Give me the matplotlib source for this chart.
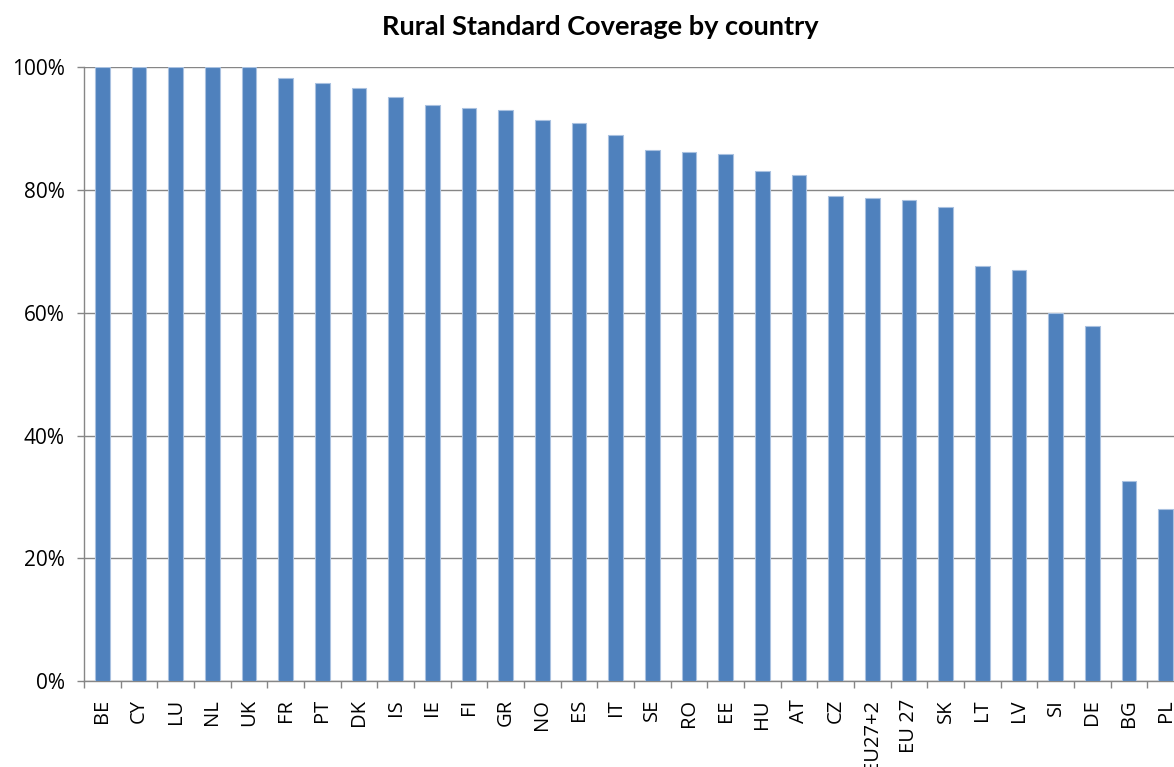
import matplotlib.pyplot as plt
import numpy as np
from matplotlib.ticker import FixedLocator, PercentFormatter

plt.rcParams['font.family'] = ['Open Sans', 'DejaVu Sans']

# Rural standard coverage, share per country
countries = ['BE', 'CY', 'LU', 'NL', 'UK', 'FR', 'PT', 'DK', 'IS', 'IE',
             'FI', 'GR', 'NO', 'ES', 'IT', 'SE', 'RO', 'EE', 'HU', 'AT',
             'CZ', 'EU27+2', 'EU 27', 'SK', 'LT', 'LV', 'SI', 'DE', 'BG', 'PL']
coverage = [1.000, 1.000, 1.000, 1.000, 1.000, 0.982, 0.974, 0.966, 0.952, 0.939,
            0.934, 0.930, 0.914, 0.910, 0.889, 0.866, 0.862, 0.859, 0.831, 0.825,
            0.790, 0.787, 0.783, 0.773, 0.677, 0.669, 0.599, 0.579, 0.326, 0.281]

bar_color = '#4F81BD'
grid_color = '#868686'

fig = plt.figure(figsize=(11.74, 7.67), dpi=100)
# right edge runs slightly past the figure, as in the original crop
ax = fig.add_axes([0.0716, 0.1121, 0.937, 0.8002])

x = np.arange(len(countries))
ax.bar(x, coverage, width=0.4, color=bar_color, edgecolor='#A9C1E0',
       linewidth=0.8, zorder=3)

ax.set_xlim(-0.5, len(countries) - 0.5)
ax.set_ylim(0, 1)
ax.yaxis.set_major_locator(FixedLocator(np.arange(0, 1.01, 0.2)))
ax.yaxis.set_major_formatter(PercentFormatter(1.0, decimals=0))
ax.grid(axis='y', color=grid_color, linewidth=1.0, zorder=0)

ax.set_xticks(x)
ax.set_xticklabels(countries, rotation=90, fontsize=14.5)
ax.xaxis.set_minor_locator(FixedLocator(np.arange(-0.5, len(countries), 1.0)))
ax.tick_params(axis='x', which='major', length=0, pad=13)
ax.tick_params(axis='x', which='minor', length=5, color=grid_color, width=1.0)
ax.tick_params(axis='y', length=5, color=grid_color, width=1.0, pad=9,
               labelsize=15)

for side in ['top', 'right']:
    ax.spines[side].set_visible(False)
for side in ['left', 'bottom']:
    ax.spines[side].set_color(grid_color)
    ax.spines[side].set_linewidth(1.0)

fig.text(0.511, 0.965, 'Rural Standard Coverage by country', ha='center',
         va='center', fontsize=19.5, fontweight='bold', family='Lato')

fig.savefig('out.png', dpi=100)
